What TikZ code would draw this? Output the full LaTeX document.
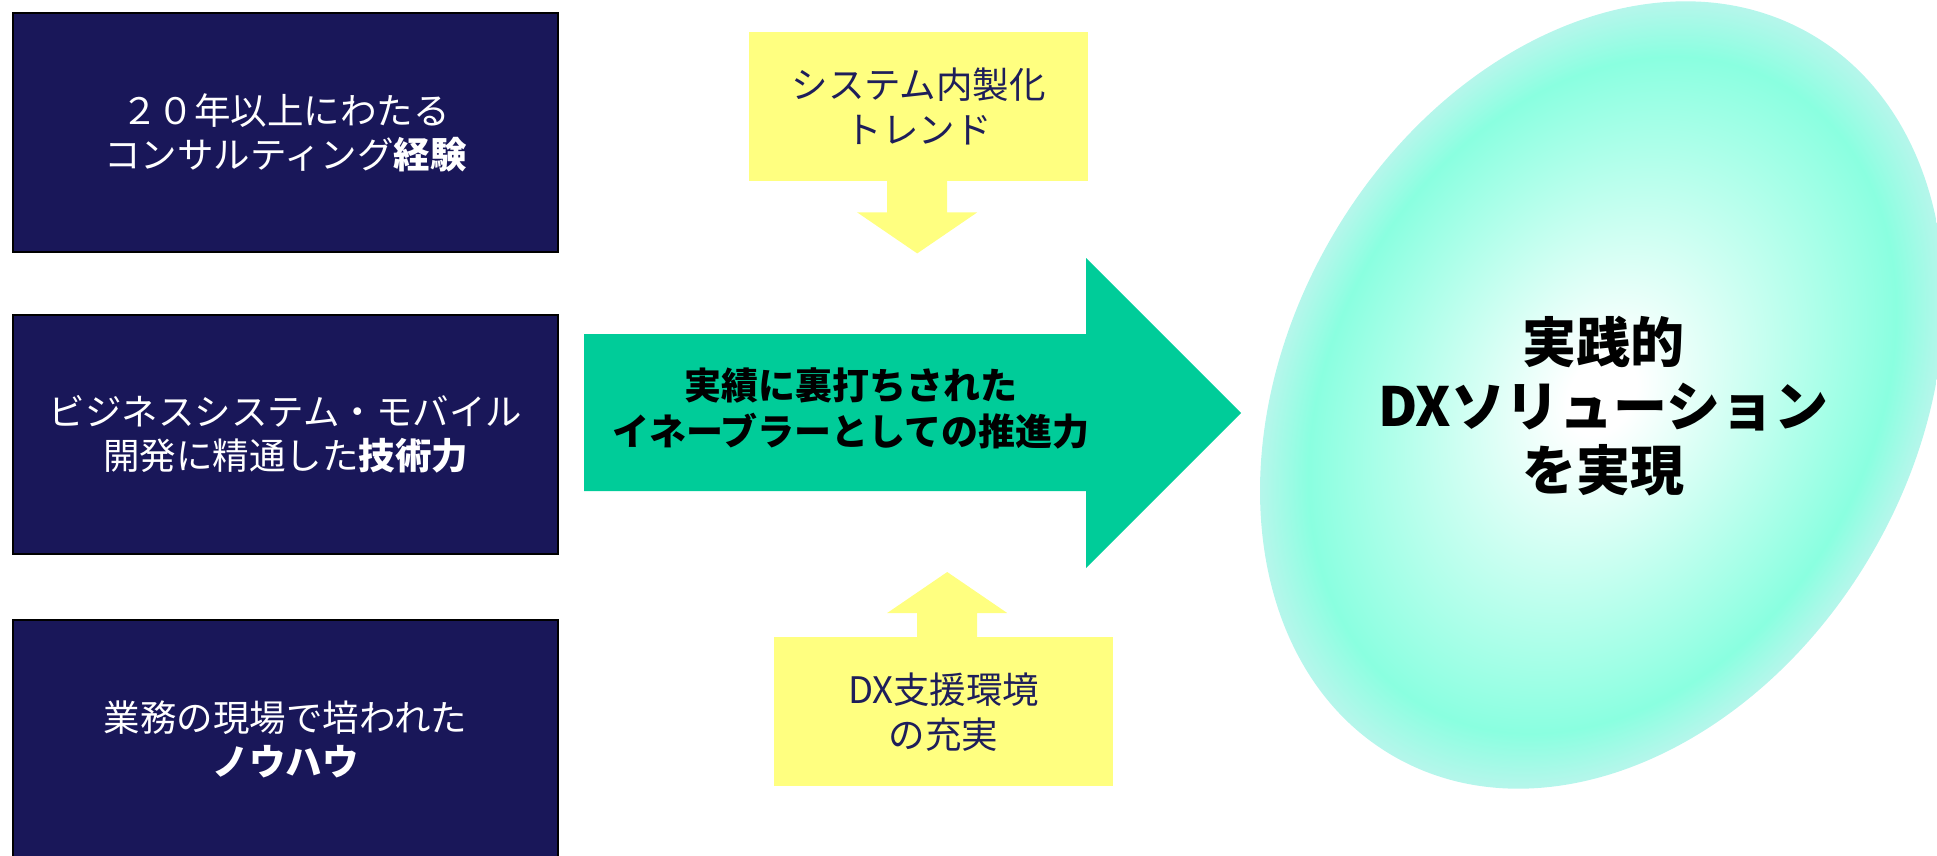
\documentclass[tikz,border=0pt]{standalone}
\usepackage{fontspec}
\setmainfont{Noto Sans CJK JP}
\usetikzlibrary{calc}
\definecolor{navy}{RGB}{25,23,89}
\definecolor{yel}{RGB}{255,255,128}
\definecolor{grn}{RGB}{0,204,153}
\definecolor{ytext}{RGB}{30,30,90}
\definecolor{aq}{RGB}{138,255,224}
\definecolor{aqedge}{RGB}{182,246,235}
\pgfdeclareradialshading{eggshade}{\pgfpoint{0bp}{0bp}}{color(0bp)=(white); color(2.5bp)=(white); color(21.5bp)=(aq); color(25bp)=(aqedge); color(50bp)=(aqedge)}
\begin{document}
\begin{tikzpicture}[x=1pt,y=-1pt,
  navybox/.style={draw=black, line width=2pt, fill=navy, text=white,
    font=\fontsize{36.5}{44}\selectfont, align=center, inner sep=0pt,
    minimum width=545pt, minimum height=239pt, anchor=north west},
  ybox/.style={fill=yel, text=ytext, font=\fontsize{36.5}{45}\selectfont,
    align=center, inner sep=0pt, minimum width=339pt, minimum height=149pt,
    anchor=north west},
  yarrow/.style={fill=yel},
  garrow/.style={fill=grn},
  bigtext/.style={font=\fontsize{37}{46}\selectfont\bfseries, align=center, text=black},
  goaltext/.style={font=\fontsize{54}{64}\selectfont\bfseries, align=center, text=black}]
\useasboundingbox (0,0) rectangle (1937,855);

% ellipse
\begin{scope}[transform canvas={shift={(1602,395)}, rotate=60}]
  \shade[shading=eggshade] (0,0) ellipse [x radius=417, y radius=313];
\end{scope}

% left boxes
\node[navybox] (b1) at (12,12) {２０年以上にわたる\\コンサルティング\textbf{経験}};
\node[navybox] (b2) at (12,314) {ビジネスシステム・モバイル\\開発に精通した\textbf{技術力}};
\node[navybox] (b3) at (12,619) {業務の現場で培われた\\\textbf{ノウハウ}};

% yellow boxes
\node[ybox] (ytop) at (749,32) {システム内製化\\トレンド};
\node[ybox] (ybot) at (774,637) {DX支援環境\\の充実};

% green arrow
\fill[garrow] (584,334) coordinate (gl) -- (1086,334) -- (1086,258) -- (1241,413) coordinate (gtip)
  -- (1086,568) -- (1086,491) -- (584,491) -- cycle;
\node[bigtext] (enabler) at (851,408) {実績に裏打ちされた\\イネーブラーとしての推進力};

% yellow arrows
\coordinate (ta) at ($(ytop.south)+(-1.5,0)$);
\fill[yarrow] ($(ta)+(-30,-1)$) -- ($(ta)+(30,-1)$) -- ($(ta)+(30,31)$) -- ($(ta)+(60,31)$)
  -- ($(ta)+(0,72)$) -- ($(ta)+(-60,31)$) -- ($(ta)+(-30,31)$) -- cycle;
\coordinate (ba) at ($(ybot.north)+(3.5,0)$);
\fill[yarrow] ($(ba)+(-30,1)$) -- ($(ba)+(30,1)$) -- ($(ba)+(30,-24)$) -- ($(ba)+(60,-24)$)
  -- ($(ba)+(0,-65)$) -- ($(ba)+(-60,-24)$) -- ($(ba)+(-30,-24)$) -- cycle;

% goal text
\node[goaltext] (goal) at (1603,406) {実践的\\DXソリューション\\を実現};
\end{tikzpicture}
\end{document}
